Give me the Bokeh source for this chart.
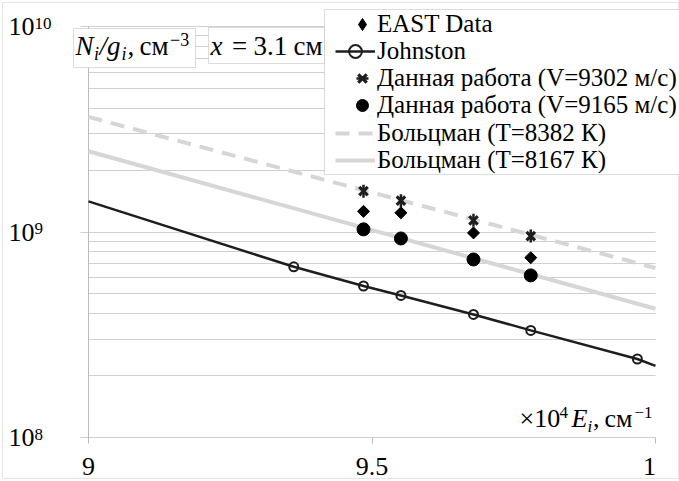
import numpy as np
from bokeh.plotting import figure
from bokeh.models import (Range1d, FixedTicker, Label, BoxAnnotation, Legend, LegendItem,
                          Grid, LogScale)
from bokeh.embed import file_html
from bokeh.resources import INLINE

# ---------------- data ----------------
energy_levels = [9.485, 9.551, 9.679, 9.780]          # x 10^4 cm^-1
east_data     = [1.26e9, 1.24e9, 9.9e8, 7.5e8]
work_v9302    = [1.58e9, 1.42e9, 1.14e9, 9.55e8]
work_v9165    = [1.03e9, 9.3e8, 7.35e8, 6.15e8]
johnston_e    = [9.362, 9.485, 9.551, 9.679, 9.780, 9.968]
johnston_n    = [6.77e8, 5.46e8, 4.91e8, 3.97e8, 3.32e8, 2.41e8]
johnston_line_e = [9.0, 9.362, 9.485, 9.551, 9.679, 9.780, 9.968, 10.0]
johnston_line_n = [1.41e9, 6.77e8, 5.46e8, 4.91e8, 3.97e8, 3.32e8, 2.41e8, 2.23e8]
boltz_8382_e  = [9.0, 10.0]
boltz_8382_n  = [3.63e9, 6.68e8]
boltz_8167_e  = [9.0, 10.0]
boltz_8167_n  = [2.47e9, 4.23e8]

x_tick_values = [9.0, 9.5, 10.0]
x_tick_labels = ["9", "9.5", "1"]
y_tick_values = [1e8, 1e9, 1e10]
y_tick_exponents = ["8", "9", "10"]

legend_labels = ["EAST Data", "Johnston",
                 "Данная работа (V=9302 м/с)", "Данная работа (V=9165 м/с)",
                 "Больцман (T=8382 К)", "Больцман (T=8167 К)"]

# ---------------- layout constants ----------------
W, H = 679, 481
PL, PR, PT, PB = 88, 655, 26, 437          # plot area in page pixels
XMIN, XMAX = 9.0, 10.0
DMIN, DMAX = 8.0, 10.0                     # log10 of y range of the plot area
KX = (PR - PL) / (XMAX - XMIN)
KY = (PB - PT) / (DMAX - DMIN)
FONT = "Liberation Serif"
GRID = "#d0d0d0"
AXIS = "#bcbcbc"
BOXLINE = "#8c8c8c"
MID = 0.3375          # distance baseline -> middle of the em box, in em


def sx(px):
    return px


def sy(py):
    return H - py


# the frame covers the whole page; ranges are chosen so that the plot area sits
# exactly where it does in the reference
x_range = Range1d(XMIN - PL / KX, XMAX + (W - PR) / KX)
y_range = Range1d(10 ** (DMIN - (H - PB) / KY), 10 ** (DMAX + PT / KY))

p = figure(width=W, height=H, output_backend="svg", toolbar_location=None, title=None,
           x_range=x_range, y_range=y_range, y_axis_type="log",
           x_axis_location=None, y_axis_location=None,
           min_border=0, min_border_left=0, min_border_right=0,
           min_border_top=0, min_border_bottom=0)
p.y_scale = LogScale()
p.outline_line_color = None
p.background_fill_color = "white"
p.border_fill_color = "white"
p.center = [r for r in p.center if not isinstance(r, Grid)]

minor = [k * 10.0 ** e for e in (8, 9) for k in range(2, 10)]
below = 10 ** (DMIN - 6 / KY)
p.add_layout(Grid(dimension=1, ticker=FixedTicker(ticks=[], minor_ticks=minor),
                  grid_line_color=None, minor_grid_line_color=GRID,
                  cross_bounds=(XMIN, XMAX)))
p.add_layout(Grid(dimension=1, ticker=FixedTicker(ticks=y_tick_values, minor_ticks=[]),
                  grid_line_color=GRID, cross_bounds=(XMIN - 8 / KX, XMAX)))
p.add_layout(Grid(dimension=0, ticker=FixedTicker(ticks=[XMIN], minor_ticks=[]),
                  grid_line_color=AXIS, cross_bounds=(below, 10 ** DMAX)))
p.add_layout(Grid(dimension=0, ticker=FixedTicker(ticks=x_tick_values[1:], minor_ticks=[]),
                  grid_line_color=AXIS, cross_bounds=(below, 10 ** DMIN)))

# ---------------- series ----------------
r_b1 = p.line(boltz_8382_e, boltz_8382_n, line_color="#d6d6d6", line_width=4,
              line_dash="14 9")
r_b2 = p.line(boltz_8167_e, boltz_8167_n, line_color="#d6d6d6", line_width=4)
r_jl = p.line(johnston_line_e, johnston_line_n, line_color="#1e1e1e", line_width=2.5)
r_jc = p.scatter(johnston_e, johnston_n, marker="circle", size=9, fill_color=None,
                 line_color="#1e1e1e", line_width=2)
r_east = p.scatter(energy_levels, east_data, marker="square", angle=np.pi / 4, size=8.5,
                   fill_color="black", line_color="black")
# legend key only (no point in the plot)
r_east_key = p.scatter([float("nan")], [float("nan")], marker="diamond", size=13,
                       fill_color="black", line_color="black")
r_x1 = p.scatter(energy_levels, work_v9302, marker="x", size=12, line_color="#1e1e1e",
                 line_width=3.2)
r_x2 = p.scatter(energy_levels, work_v9302, marker="dash", angle=np.pi / 2, size=13,
                 line_color="#1e1e1e", line_width=2.5)
r_c = p.scatter(energy_levels, work_v9165, marker="circle", size=13,
                fill_color="black", line_color="black")

# ---------------- outer frame and boxes ----------------
def screen_box(l, t, r, b, fill=True, color=BOXLINE):
    return BoxAnnotation(left=sx(l), right=sx(r), top=sy(t), bottom=sy(b),
                         left_units="screen", right_units="screen",
                         top_units="screen", bottom_units="screen",
                         fill_color="white" if fill else None,
                         fill_alpha=1.0 if fill else 0.0,
                         line_color=color, line_width=1)

p.add_layout(screen_box(2, 2, 678, 478, fill=False, color="#a6a6a6"))
p.add_layout(screen_box(73, 28, 195, 67))
p.add_layout(screen_box(208, 27, 324, 63))
p.add_layout(screen_box(324, 9, 679, 174))

# ---------------- legend (one row per Legend, to fix the row pitch) ----------------
ROW_H = 32
TEXT_X = 377
row_renderers = [[r_east_key], [r_jl, r_jc], [r_x1, r_x2], [r_c], [r_b1], [r_b2]]
row_centres = [23.5, 50.5, 78, 105, 132.5, 160]
row_glyph_w = [30, 40, 30, 30, 40, 40]        # marker-only keys sit nearer the text
for lab, rends, cy, gw in zip(legend_labels, row_renderers, row_centres, row_glyph_w):
    standoff = 0 if gw == 30 else 2
    leg = Legend(items=[LegendItem(label=lab, renderers=rends)],
                 location=(sx(TEXT_X - standoff - gw), sy(cy + ROW_H / 2)),
                 padding=0, spacing=0, margin=0,
                 glyph_width=gw, glyph_height=ROW_H, label_height=ROW_H,
                 label_standoff=standoff,
                 label_text_font=FONT, label_text_font_size="25px",
                 label_text_color="black", label_text_baseline="middle",
                 border_line_color=None, background_fill_alpha=0.0)
    p.add_layout(leg)

# ---------------- text pieces ----------------
def piece(text, x, base, size, italic=False, align="left"):
    p.add_layout(Label(x=sx(x), y=sy(base - MID * size), x_units="screen",
                       y_units="screen", text=text, text_font=FONT,
                       text_font_size=f"{size}px",
                       text_font_style="italic" if italic else "normal",
                       text_color="black", text_baseline="middle", text_align=align))


BIG, SMALL = 27, 18
B1 = 54.5
# box 1:  N_i/g_i, см^-3
piece("N", 75, B1, BIG, True)
piece("i", 93.5, B1 + 5, SMALL, True)
piece("/", 99, B1, BIG, True)
piece("g", 106.5, B1, BIG, True)
piece("i", 121, B1 + 5, SMALL, True)
piece(",", 127, B1, BIG)
piece("см", 139, B1, BIG)
piece("−3", 169.5, B1 - 9.5, SMALL)
# box 2:  x = 3.1 см
piece("x", 210, B1, BIG, True)
piece("=", 231.5, B1, BIG)
piece("3.1", 253, B1, BIG)
piece("см", 293, B1, BIG)
# axis title:  ×10^4 E_i, см^-1
B2 = 427
piece("×10", 519, B2, 26)
piece("4", 559, B2 - 9, 17)
piece("E", 571, B2, 26, True)
piece("i", 587, B2 + 5, 17, True)
piece(",", 592.5, B2, 26)
piece("см", 604, B2, 26)
piece("−1", 634, B2 - 9, 17)

# y tick labels (10 with superscript exponent)
for v, e in zip(y_tick_values, y_tick_exponents):
    p.add_layout(Label(x=sx(8), y=v, x_units="screen", y_units="data", text="10",
                       text_font=FONT, text_font_size="26px", text_color="black",
                       text_baseline="middle", text_align="left"))
    p.add_layout(Label(x=sx(34), y=v, x_units="screen", y_units="data", y_offset=3.2,
                       text=e, text_font=FONT, text_font_size="17px", text_color="black",
                       text_baseline="middle", text_align="left"))

# x tick labels
for v, t in zip(x_tick_values, x_tick_labels):
    off = -6 if t == "1" else 0
    p.add_layout(Label(x=v, y=sy(475 - MID * 26), x_units="data", y_units="screen",
                       x_offset=off, text=t, text_font=FONT, text_font_size="26px",
                       text_color="black", text_baseline="middle", text_align="center"))

open("out.html", "w").write(file_html(p, INLINE))
